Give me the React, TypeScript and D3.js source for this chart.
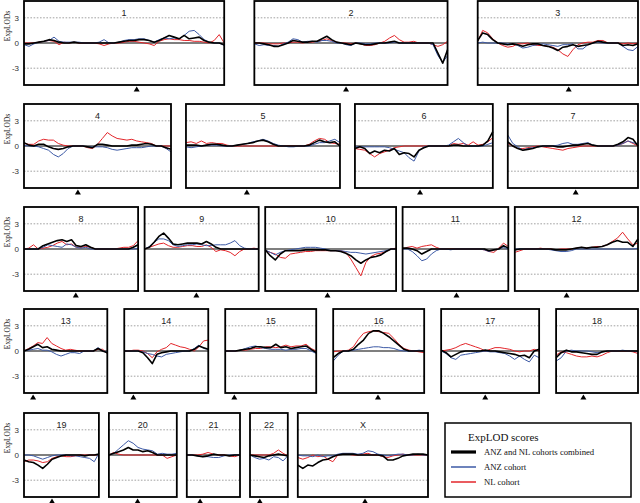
import React from "react";
import * as d3 from "d3";

// ---------- chromosome meta ----------
const chromosomes = ["1","2","3","4","5","6","7","8","9","10","11","12","13","14","15","16","17","18","19","20","21","22","X"];
const chromLengthCM = [286,276,229,210,220,197,186,163,163,187,151,176,119,120,130,130,140,117,107,97,76,54,186];
const centromereCM = [161,131,130,77,87,93,97,74,74,89,77,74,13,13,13,64,63,39,40,41,19,14,96];
const yTicks = [3, 0, -3];
const yTickLabels = ["3", "0", "-3"];
const seriesNames = ["ANZ and NL cohorts combined", "ANZ cohort", "NL cohort"];

// ---------- ExpLOD values (evenly spaced along each chromosome) ----------
const chr1Combined = [-0.1,-0.1,0,0.1,0.2,0.4,0.3,0.1,0,0,0.1,0,0,0,0,0,0,0,0,0.1,0.2,0.3,0.3,0.4,0.4,0.3,0.1,0.3,0.6,0.9,0.7,0.5,0.9,0.5,0.6,0.7,0.3,0.1,0,0,-0.2];
const chr1ANZ = [-0.2,-0.4,-0.1,0.1,0.2,0.3,0.7,0.2,0.1,0.1,0.1,0.1,0,0,0,0.1,0.4,0,0,0.1,0.3,0.4,0.4,0.5,0.5,0.3,0.1,0.4,0.6,0.5,0.6,0.5,0.9,1.4,1.5,1.0,0.4,0.1,0,0,-0.3];
const chr1NL = [0,0,0,0.1,0.2,0.3,0.2,-0.2,0.1,0,0.1,0,0,0,0,-0.1,-0.3,-0.1,0,0,0.1,0.2,0.2,0.1,0,-0.1,-0.3,0.2,0.4,0.5,0.4,0.4,0.3,0.3,0.2,0.2,0.1,0,0.3,1.0,0];

const chr2Combined = [0,0,-0.1,-0.2,-0.4,-0.4,-0.2,0,0.3,0.2,0.1,0.1,0.2,0.2,0.5,0.8,0.4,0.1,0,-0.1,-0.2,0,-0.1,-0.2,-0.2,-0.1,0,0,0.1,0.2,0,0,0,0,0,0,0,0,-1.2,-2.4,-0.8];
const chr2ANZ = [-0.1,-0.3,-0.2,-0.3,-0.3,-0.4,-0.1,0.1,0.5,0.4,0.1,0.2,0.2,0.1,0.3,0.3,0.2,0,0,-0.2,-0.3,0,0,-0.1,-0.1,0,0,0,0,0.1,0,0,0,0,0,0,0,-0.2,-1.5,-2.3,-1.5];
const chr2NL = [0,0,0,-0.1,-0.1,-0.1,0,0,0.1,0.1,0,0.1,0.1,0.2,0.3,0.5,0.3,0.1,0,0,-0.1,0,-0.1,-0.3,-0.3,-0.2,0,0.2,0.6,0.9,0.4,0.1,0.1,0.2,0,0,0,-0.2,-0.4,-0.2,0.2];

const chr3Combined = [0.3,1.2,1.0,0.4,0,-0.1,-0.2,-0.1,-0.2,-0.4,-0.2,-0.1,-0.1,-0.3,-0.4,-0.6,-0.9,-0.5,-0.4,-0.2,-0.4,-0.3,-0.2,0,0.2,0.1,0,0,0,-0.3,-0.2,-0.3,-0.1];
const chr3ANZ = [0,0.1,0,0,0,0,-0.1,-0.1,-0.3,-0.6,-0.5,-0.3,-0.2,-0.1,-0.2,-0.3,-0.4,-0.2,-0.2,-0.1,-0.7,-0.7,-0.2,0,0.1,0,0,0,0,-0.4,-0.8,-0.9,-0.4];
const chr3NL = [0.2,1.5,1.2,0.5,0,-0.3,-0.5,-0.4,-0.1,-0.1,0,-0.2,-0.3,-0.3,-0.4,-0.5,-0.8,-1.3,-1.6,-0.8,-0.2,0,0.1,0.1,0.3,0.3,0,0,0,-0.1,0,-0.1,0];

const chr4Combined = [0.4,0.1,0,0.2,0.2,-0.1,-0.3,-0.4,-0.3,-0.1,0,0,0,-0.1,-0.2,0.2,0.2,0.1,0,0,0,0,0.1,0.1,0.2,0.3,0.2,0,0,-0.2,-0.4];
const chr4ANZ = [0.1,0,0,-0.1,-0.3,-0.5,-1.0,-1.3,-0.9,-0.3,0,0,0,-0.1,-0.1,-0.1,-0.1,-0.2,-0.4,-0.5,-0.4,-0.3,-0.2,-0.2,-0.2,-0.1,0,0,0,-0.3,-0.7];
const chr4NL = [0.3,0.2,0.2,0.6,0.8,0.7,0.7,0.3,0.1,0,0,0,0,-0.2,-0.3,0.2,0.9,1.6,1.2,0.9,0.8,0.7,0.8,0.6,0.5,0.4,0.3,0,0,0,0];

const chr5Combined = [0.1,0.1,0.1,0,0.1,0.2,0.2,0.1,0,0,0.1,0.2,0.3,0.4,0.6,0.7,0.5,0.2,0,0,0,0,0,0,0.1,0.4,0.7,0.5,0.4,0.5,0];
const chr5ANZ = [-0.1,-0.2,-0.1,0,0.1,0.1,0.1,0,0,0,0.1,0.2,0.3,0.5,0.6,0.8,0.6,0.3,0.1,0,-0.1,-0.1,0,0,0,0.2,0.4,0.4,0.6,0.8,0.4];
const chr5NL = [0.4,0.5,0.3,0.6,0.3,0.4,0.3,0.3,0.1,0,0,0,0,0,0,0,0,0,0,0,0,0,0,0,0.2,0.6,0.9,0.8,0.4,0.3,0.2];

const chr6Combined = [-0.3,-0.1,-0.3,-0.9,-0.6,-0.8,-0.5,-0.6,-0.3,-1.0,-0.8,-0.9,-1.3,-0.5,-0.2,0,0,0,0,0,0.1,0.1,0,0,0,0,0.1,0.6,1.7];
const chr6ANZ = [-0.1,-0.1,-0.1,-0.1,-0.1,-0.1,-0.1,-0.2,-0.4,-0.6,-0.8,-1.4,-1.8,-0.6,-0.1,0,0,0,0,0.1,0.5,0.9,0.4,0,0,0,0,0.2,0.4];
const chr6NL = [-0.3,-0.4,-0.5,-0.9,-1.3,-0.9,-0.7,-0.5,-0.2,-0.1,0,0,0,0,0,0,0,0,0,0,0.3,0.2,0.3,0.1,0.5,0.1,0.2,0.5,1.0];

const chr7Combined = [0.5,0,-0.3,-0.5,-0.4,-0.3,-0.1,0,0,0,-0.1,-0.1,0,0.1,0.1,0.2,0.3,0.1,0,0,0,0,0.2,0.5,1.0,0.8,0];
const chr7ANZ = [1.3,0.3,-0.1,-0.5,-0.3,-0.2,-0.1,0,0,0,0.1,0.3,0.4,0.2,0.2,0.3,0.4,0.1,0,0,0,0,0.1,0.3,0.6,0.4,0.2];
const chr7NL = [0.3,0,-0.3,-0.3,-0.2,-0.1,0,-0.1,-0.2,-0.3,-0.4,-0.5,-0.3,-0.2,-0.1,0,0,0,0,0,0,0,0.1,0.3,0.6,0.3,0];

const chr8Combined = [0,0,0,0,0.4,0.6,0.8,1.0,1.1,0.9,1.1,0.4,0.3,0.5,0.2,0,0,0,0,0,0,0,0,0.2,0.5];
const chr8ANZ = [0,0,0,0,0.2,0.5,0.4,0.3,0.2,0.6,0.5,0.2,0.1,0.2,0,0,0,0,0,0,0,0,0,0,0.1];
const chr8NL = [0,0.1,0.5,0,0.1,0.2,0.4,0.7,0.9,0.5,0.6,0.2,0.2,0.3,0.2,0,0,0,0,0,0.1,0.2,0.2,0.4,1.0];

const chr9Combined = [0,0.2,0.8,1.5,1.9,1.3,0.6,0.5,0.6,0.7,0.7,0.7,0.6,0.9,0.6,0.2,0,0,0,0,0,0,0,0,0];
const chr9ANZ = [0,0.3,0.8,1.2,1.2,1.0,0.5,0.3,0.4,0.5,0.5,0.6,0.5,0.4,0.4,0.5,0.5,0.5,0.7,1.0,0.4,0.1,0,0,0];
const chr9NL = [0,0.2,0.4,0.6,0.7,0.4,0.2,0.2,0.3,0.4,0.4,0.3,0.3,0.5,0.2,-0.3,-0.1,-0.2,-0.4,-0.8,-0.3,0,0,0.1,0];

const chr10Combined = [-0.1,-0.8,-1.3,-0.6,-0.2,-0.2,-0.2,-0.2,-0.1,-0.1,-0.1,-0.1,-0.1,-0.2,-0.2,-0.3,-0.5,-0.8,-1.3,-1.7,-1.3,-1.0,-0.9,-0.7,-0.3,0,0];
const chr10ANZ = [-0.1,-0.4,-0.7,-0.4,-0.2,-0.1,0,0.1,0.2,0.2,0.2,0.1,0,-0.2,-0.2,-0.2,-0.3,-0.4,-0.4,-0.5,-0.6,-0.5,-0.4,-0.3,-0.2,0,0];
const chr10NL = [-0.2,-0.4,-0.6,-1.0,-1.1,-0.6,-0.5,-0.4,-0.3,-0.3,-0.2,-0.2,-0.2,-0.2,-0.2,-0.2,-0.4,-1.2,-2.2,-3.2,-1.6,-0.9,-0.6,-0.5,-0.3,0,0.1];

const chr11Combined = [0.1,0.1,0,-0.2,-0.6,-0.3,0,0,0,0,0,0,0,0,0,0,0,0,-0.2,-0.1,0,0.4,0.1];
const chr11ANZ = [0,0,-0.3,-0.8,-1.4,-1.2,-0.6,-0.2,0,0,-0.1,0,0,0,0,0,0,-0.1,-0.3,-0.1,0,0.2,0];
const chr11NL = [0,0.2,0.3,0.1,0.3,0.4,0.5,0.2,0,0,0,0,0,0,0,0,0,-0.1,-0.3,-0.4,0.1,0.7,0.3];

const chr12Combined = [-0.1,0,0,0,0,0,0,0,-0.1,-0.1,-0.1,0,0.1,0.2,0.1,0.2,0.2,0.3,0.5,0.8,1.0,0.8,0.8,0.3,1.2];
const chr12ANZ = [0,0,0,0,0,0,0,-0.1,-0.2,-0.3,-0.3,-0.2,0,0,0,0,0,0,0,0,0,0,0,0,0.1];
const chr12NL = [-0.4,-0.2,0,0,0,0.1,0,0,-0.1,0,0,0,0.1,0.2,0.1,0.2,0.3,0.3,0.5,0.9,1.3,2.0,1.2,0.5,0.7];

const chr13Combined = [0,0.2,0.5,0.8,0.4,0.5,0.2,0.1,0,0,0,0,0,0,0,0,0.3,0,-0.2];
const chr13ANZ = [0,0.1,0.2,0.3,0.1,0.1,-0.1,-0.4,-0.6,-0.4,-0.2,-0.2,-0.3,0,0,0,0.4,0,-0.1];
const chr13NL = [0,0.3,0.6,1.0,0.9,1.6,0.9,0.6,0.3,0.1,0.2,0.1,0,0,0,0,0.2,0.2,-0.3];

const chr14Combined = [0,0,0,0,-0.2,-0.8,-1.5,-0.4,-0.2,-0.1,0,0,0,0,0,0.2,0.6,0.4,0.2];
const chr14ANZ = [0,0,0,0,-0.1,-0.3,-0.4,-0.6,-0.7,-0.4,-0.3,-0.2,-0.1,0,0,0.3,0.7,0.3,0.2];
const chr14NL = [0,0,0.1,0.1,0,-0.3,-0.8,-0.1,0.2,0.4,0.9,0.7,0.5,0.4,0.2,0,0.5,1.2,1.3];

const chr15Combined = [0,0,0,0.1,0.2,0.3,0.5,0.5,0.4,0.4,0.8,0.4,0.5,0.3,0.4,0.5,0.6,0.2,-0.2];
const chr15ANZ = [0,0,0,0.1,0.3,0.5,0.6,0.4,0.3,0.2,0.2,0.2,0.1,0.2,0.2,0.3,0.3,0,-0.3];
const chr15NL = [0,0,0,0.1,0.1,0.2,0.3,0.3,0.5,0.5,0.4,0.5,0.7,0.5,0.6,0.6,0.8,0.3,0];

const chr16Combined = [-0.8,-0.3,0,0,0.2,0.8,1.3,2.1,2.4,2.4,2.1,1.7,1.2,0.7,0.2,0,0,0,0];
const chr16ANZ = [-1.2,-0.5,0,0,0.1,0.2,0.3,0.4,0.5,0.5,0.4,0.4,0.3,0.1,0,0,0,0.1,0];
const chr16NL = [-0.1,0,0,0.1,0.5,1.4,2.1,2.3,2.4,2.3,2.2,2.1,1.5,0.8,0.3,0.1,0,-0.1,-0.2];

const chr17Combined = [0.1,-0.2,-0.7,-0.4,-0.1,0,0,0,0,0.1,0,0,-0.1,-0.2,-0.3,-0.4,-0.6,-0.5,-0.8,0,0.2];
const chr17ANZ = [0,-0.3,-0.8,-1.0,-0.5,-0.4,-0.3,-0.2,-0.1,0,-0.1,-0.1,-0.2,-0.3,-0.6,-1.0,-0.6,-1.0,-1.3,-0.5,-0.8];
const chr17NL = [0,0.1,0.2,0.4,0.7,0.9,0.7,0.5,0.3,0,0.2,0.4,0.4,0.3,0.2,0,-0.1,0,0,0.2,0];

const chr18Combined = [-0.8,-0.2,0.1,-0.1,-0.1,-0.2,-0.3,-0.4,-0.4,-0.1,0,0,0,0,0,0,0];
const chr18ANZ = [-1.2,-0.8,0,0.1,0,0,0,-0.1,-0.2,-0.1,0,0,0,0.1,0,0,-0.1];
const chr18NL = [-0.5,-0.1,-0.2,-0.4,-0.6,-0.7,-0.7,-0.6,-0.7,-0.5,-0.2,0,0,0,0,-0.1,-0.3];

const chr19Combined = [-0.6,-0.8,-0.9,-1.2,-1.6,-1.1,-0.5,-0.3,-0.1,0,0,0,0,-0.1,0,0,0.1];
const chr19ANZ = [0,0,-0.1,-0.3,-0.5,-0.3,-0.1,0,0,0,-0.1,-0.1,-0.2,-0.3,-0.4,-0.8,0.2];
const chr19NL = [-0.8,-0.6,-0.6,-0.7,-0.9,-0.8,-0.4,-0.2,-0.1,-0.2,-0.2,-0.1,0,0,0,0,0];

const chr20Combined = [0,0.2,0.4,0.6,0.9,0.6,0.6,0.4,0.5,0.3,0,0,0,0,0];
const chr20ANZ = [0,0.2,0.7,1.2,1.7,1.4,0.9,0.7,0.6,0.5,0.1,0.2,0.1,0.1,0.2];
const chr20NL = [0,0.3,0.1,0,0,0,0,0,0,0,0,0,-0.4,-0.2,0];

const chr21Combined = [0,0,-0.1,-0.2,-0.1,0.1,0,0,-0.1,0,0];
const chr21ANZ = [0,0,-0.1,-0.2,-0.2,-0.3,-0.3,-0.1,0,0,0];
const chr21NL = [0,0,0,0.1,0.3,0.1,0,0,-0.1,-0.2,0];

const chr22Combined = [0,-0.1,-0.2,-0.3,-0.1,0,0.1,0,-0.1];
const chr22ANZ = [0,-0.3,-0.5,-0.4,-0.6,-0.2,-0.3,-0.7,-0.1];
const chr22NL = [0,0,0,0,0,0.2,0.6,0.2,-0.1];

const chrXCombined = [-1.2,-1.6,-1.2,-1.3,-0.9,-0.6,-0.5,-0.2,0,0.1,0.1,0.1,0,0,0,0,0,-0.1,-0.6,-0.6,-0.4,-0.1,0,0.1,0.1,0.1,0];
const chrXANZ = [0,-0.1,-0.1,-0.2,0,-0.2,-0.1,-0.1,0.1,0.2,0.2,0.2,0.1,0.2,0.5,0.4,0.1,0,-0.1,0,0.1,0.1,0,0,0.1,0,0];
const chrXNL = [-0.3,-0.5,-0.3,0,-0.2,-0.1,-0.5,-0.8,0,0.1,0.1,0,0,0.1,0.2,0,0,-0.2,-0.3,-0.1,0,0.1,0,0,0,0,0];

const combinedSeries = [chr1Combined,chr2Combined,chr3Combined,chr4Combined,chr5Combined,chr6Combined,chr7Combined,chr8Combined,chr9Combined,chr10Combined,chr11Combined,chr12Combined,chr13Combined,chr14Combined,chr15Combined,chr16Combined,chr17Combined,chr18Combined,chr19Combined,chr20Combined,chr21Combined,chr22Combined,chrXCombined];
const anzSeries = [chr1ANZ,chr2ANZ,chr3ANZ,chr4ANZ,chr5ANZ,chr6ANZ,chr7ANZ,chr8ANZ,chr9ANZ,chr10ANZ,chr11ANZ,chr12ANZ,chr13ANZ,chr14ANZ,chr15ANZ,chr16ANZ,chr17ANZ,chr18ANZ,chr19ANZ,chr20ANZ,chr21ANZ,chr22ANZ,chrXANZ];
const nlSeries = [chr1NL,chr2NL,chr3NL,chr4NL,chr5NL,chr6NL,chr7NL,chr8NL,chr9NL,chr10NL,chr11NL,chr12NL,chr13NL,chr14NL,chr15NL,chr16NL,chr17NL,chr18NL,chr19NL,chr20NL,chr21NL,chr22NL,chrXNL];

// ---------- layout ----------
const rowsLayout = [[0,1,2],[3,4,5,6],[7,8,9,10,11],[12,13,14,15,16,17],[18,19,20,21,22]];
const rowTops = [1, 104, 207, 309, 413];
const PANEL_H = 84;
const LEFT = 24;
const RIGHT = 638;
const PX_PER_CM = 0.7;

const COL_COMBINED = "#000000";
const COL_ANZ = "#3d5aa6";
const COL_NL = "#e3262b";
const SANS = "'Liberation Sans', Arial, Helvetica, sans-serif";
const SERIF = "'Liberation Serif', 'Times New Roman', serif";

type Panel = { idx: number; x0: number; x1: number; top: number; row: number; first: boolean };

function buildPanels(): Panel[] {
  const out: Panel[] = [];
  rowsLayout.forEach((row, r) => {
    const widths = row.map((i) => chromLengthCM[i] * PX_PER_CM);
    const total = d3.sum(widths);
    const gap = r === 4 ? 10 : (RIGHT - LEFT - total) / (row.length - 1);
    let x = LEFT;
    row.forEach((i, j) => {
      out.push({ idx: i, x0: x, x1: x + widths[j], top: rowTops[r], row: r, first: j === 0 });
      x += widths[j] + gap;
    });
  });
  return out;
}

function ChromPanel({ p }: { p: Panel }) {
  const i = p.idx;
  const len = chromLengthCM[i];
  const xs = d3.scaleLinear().domain([0, len]).range([p.x0, p.x1]);
  const ys = d3.scaleLinear().domain([-5, 5]).range([p.top + PANEL_H, p.top]);
  const mk = (arr: number[]) =>
    d3.line<number>()
      .x((_, k) => xs((k * len) / (arr.length - 1)))
      .y((d) => ys(d))(arr) || "";
  const cx = xs(centromereCM[i]);
  const by = p.top + PANEL_H;
  return (
    <g>
      {yTicks.map((t) =>
        t === 0 ? null : (
          <line key={t} x1={p.x0} x2={p.x1} y1={ys(t)} y2={ys(t)} stroke="#8a8a8a" strokeWidth={0.8} strokeDasharray="1.6,1.6" />
        )
      )}
      <line x1={p.x0} x2={p.x1} y1={ys(0)} y2={ys(0)} stroke="#000" strokeWidth={1.2} />
      <path d={mk(nlSeries[i])} fill="none" stroke={COL_NL} strokeWidth={1} strokeLinejoin="round" />
      <path d={mk(anzSeries[i])} fill="none" stroke={COL_ANZ} strokeWidth={1} strokeLinejoin="round" />
      <path d={mk(combinedSeries[i])} fill="none" stroke={COL_COMBINED} strokeWidth={1.6} strokeLinejoin="round" />
      <rect x={p.x0} y={p.top} width={p.x1 - p.x0} height={PANEL_H} fill="none" stroke="#000" strokeWidth={1.8} />
      <text x={(p.x0 + p.x1) / 2} y={p.top + 15} textAnchor="middle" fontFamily={SANS} fontSize={9} fill="#222">
        {chromosomes[i]}
      </text>
      <path d={`M${cx},${by + 1.5} L${cx + 3},${by + 6.5} L${cx - 3},${by + 6.5} Z`} fill="#000" />
      {p.first && (
        <g>
          {yTicks.map((t, k) => (
            <text key={t} x={p.x0 - 5} y={ys(t) + 2.8} textAnchor="end" fontFamily={SANS} fontSize={8} fill="#333">
              {yTickLabels[k]}
            </text>
          ))}
          <text transform={`translate(9.5,${p.top + 25}) rotate(-90)`} textAnchor="middle" fontFamily={SERIF} fontSize={7.5} fill="#222">
            ExpLODs
          </text>
        </g>
      )}
    </g>
  );
}

export default function App() {
  const panels = buildPanels();
  const legendColors = [COL_COMBINED, COL_ANZ, COL_NL];
  const legendWidths = [3.2, 1.5, 1.5];
  const lx = 445, ly = 423, lw = 186, lh = 74;
  return (
    <svg width={640} height={503} style={{ position: "absolute", left: 0, top: 0, background: "#fff" }}>
      <rect x={0} y={0} width={640} height={503} fill="#fff" />
      {panels.map((p) => (
        <ChromPanel key={p.idx} p={p} />
      ))}
      <g>
        <rect x={lx} y={ly} width={lw} height={lh} fill="#fff" stroke="#000" strokeWidth={1.5} />
        <text x={lx + 23} y={ly + 18} fontFamily={SERIF} fontSize={11} fill="#111">ExpLOD scores</text>
        {seriesNames.map((n, k) => (
          <g key={n}>
            <line x1={lx + 6} x2={lx + 31} y1={ly + 29 + k * 15} y2={ly + 29 + k * 15} stroke={legendColors[k]} strokeWidth={legendWidths[k]} />
            <text x={lx + 39} y={ly + 32 + k * 15} fontFamily={SERIF} fontSize={8.7} fill="#111">{n}</text>
          </g>
        ))}
      </g>
    </svg>
  );
}
